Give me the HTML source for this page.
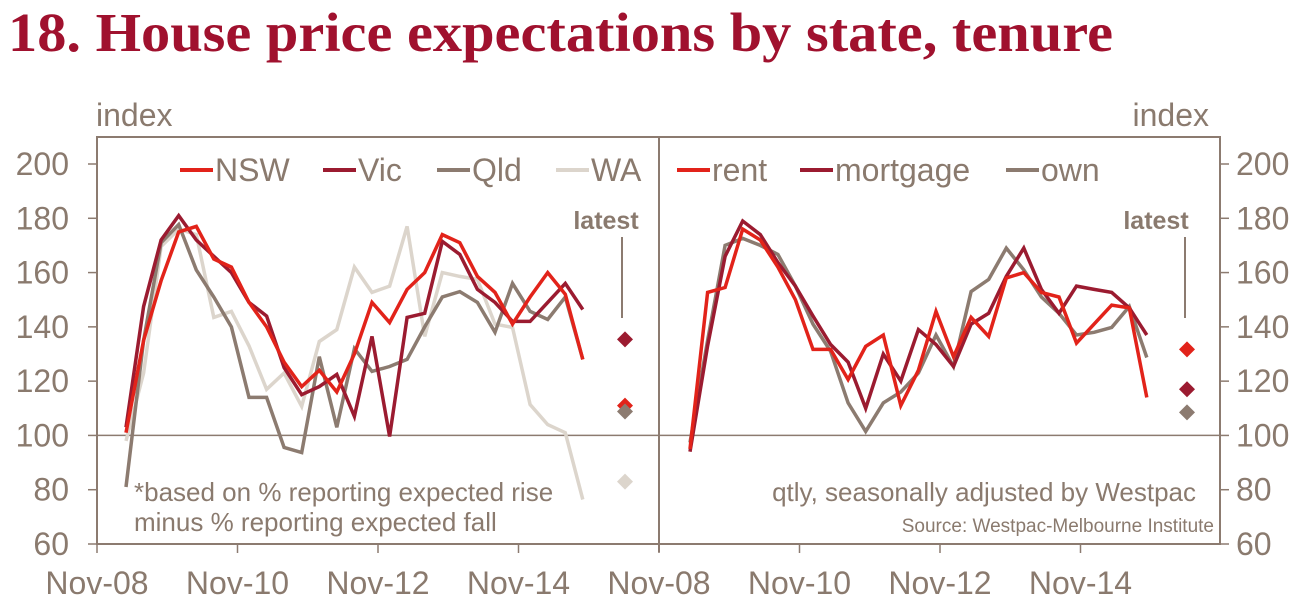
<!DOCTYPE html>
<html><head><meta charset="utf-8"><style>
body{margin:0;background:#fff;width:1304px;height:609px;overflow:hidden}
svg{display:block}
text{font-family:"Liberation Sans",sans-serif;fill:#8a7a6e}
</style></head><body>
<svg id="c" width="1304" height="609">
<text x="8" y="51" style="font-family:'Liberation Serif',serif;font-weight:bold;font-size:55px;fill:#a0112e" textLength="1105" lengthAdjust="spacingAndGlyphs">18. House price expectations by state, tenure</text>
</svg>
<script>
const yTicks=[60,80,100,120,140,160,180,200];
const xTickLabels=["Nov-08","Nov-10","Nov-12","Nov-14"];
const nsw=[101,135,157,175,177,165,162,149,140,127,118,124,116,130,149,141.6,153.8,160,174,171,158.6,152.7,141,151,160,152,128];
const vic=[103,147.5,172,181,172,166,160,149,144,125,115,118,122.5,107,136.5,99.6,143.5,145,171.5,166.7,153.8,149,142,142,149,156,146.4];
const qld=[81,135,171,177.7,161,151,140,114,114,95.6,93.7,129,103,132,123.6,125.4,128,140,151,153,149,138,156,145.7,142.7,151,128];
const wa=[98,123,169.6,176,174,143.5,145.7,133,117,123,110.7,134.6,139,162,152.7,155,177,136.5,160,158.6,157.5,141,139.8,111.4,104,101,76.4];
const rent=[95,152.7,154.5,176,172,162,150,131.7,131.7,120.6,132.8,137,111,124,145.7,129,143.5,136.5,158,160,152.7,151,134,141,148,147,114];
const mortgage=[94,133,166,179,174,163.7,155,144,133.5,127,110,130,120,139,133.5,125.4,141,145,158.6,169,153.8,145,155,153.8,152.7,147,137];
const own=[97.4,135,170,172.6,170,166.7,155,141,131,112,101.5,112,116,123,137,125.4,153,157.5,169,161,151,145,137,138,139.8,147.5,128.7];
const latestLeft=[["Vic",135.4],["NSW",111],["Qld",108.8],["WA",83]];
const latestRight=[["rent",131.7],["mortgage",117],["own",108.5]];

const NS="http://www.w3.org/2000/svg";
const svg=document.getElementById('c');
const AX="#8c7b70";
function y(v){return 544-(v-60)*(380/140);}
function el(t,a,txt){const e=document.createElementNS(NS,t);for(const k in a)e.setAttribute(k,a[k]);if(txt!==undefined)e.textContent=txt;svg.appendChild(e);return e;}
const colors={NSW:"#e2231a",Vic:"#9b1b30",Qld:"#8c7b70",WA:"#dcd5cc",rent:"#e2231a",mortgage:"#9b1b30",own:"#8c7b70"};
let f=el('rect',{x:97,y:137,width:1123,height:407,fill:'none',stroke:AX,'stroke-width':2});

let d=el('line',{x1:659,y1:137,x2:659,y2:552,stroke:AX,'stroke-width':2});

let z=el('line',{x1:97,y1:y(100),x2:1220,y2:y(100),stroke:AX,'stroke-width':1.5});

yTicks.forEach(v=>{
 let t=el('line',{x1:88,y1:y(v),x2:97,y2:y(v),stroke:AX,'stroke-width':1.5});
 let t2=el('line',{x1:1220,y1:y(v),x2:1229,y2:y(v),stroke:AX,'stroke-width':1.5});
 let l=el('text',{x:69,y:y(v)+11,'text-anchor':'end','font-size':32},String(v));
 let r=el('text',{x:1236,y:y(v)+11,'font-size':32},String(v));
});
[[97,126],[659,690]].forEach(([ox,fx],p)=>{
 xTickLabels.forEach((s,i)=>{
  const x=ox+i*140.5;
  let t=el('line',{x1:x,y1:544,x2:x,y2:553,stroke:AX,'stroke-width':1.5});
  let l=el('text',{x:x,y:594,'text-anchor':'middle','font-size':32},s);
 });
});
let il=el('text',{x:96,y:126,'font-size':32},'index');
let ir=el('text',{x:1209,y:126,'text-anchor':'end','font-size':32},'index');
function series(arr,x0,name){
 const pts=arr.map((v,i)=>(x0+i*17.57).toFixed(1)+','+y(v).toFixed(1)).join(' ');
 let p=el('polyline',{points:pts,fill:'none',stroke:colors[name],'stroke-width':3.5,'stroke-linejoin':'miter'});
 
 
}
series(wa,126,'WA');series(qld,126,'Qld');series(vic,126,'Vic');series(nsw,126,'NSW');
series(own,690,'own');series(mortgage,690,'mortgage');series(rent,690,'rent');
function diamonds(list,x){list.forEach(([n,v])=>{
 const cy=y(v);
 let p=el('polygon',{points:`${x},${cy-8} ${x+8},${cy} ${x},${cy+8} ${x-8},${cy}`,fill:colors[n]});
 
 
});}
diamonds(latestLeft,625);diamonds(latestRight,1187);
[[606,622],[1156,1185]].forEach(([cx,lx])=>{
 let t=el('text',{x:cx,y:229,'text-anchor':'middle','font-size':25,'font-weight':'bold'},'latest');
 let l=el('line',{x1:lx,y1:237,x2:lx,y2:318,stroke:AX,'stroke-width':2});
});
const legL=[["NSW",180],["Vic",323],["Qld",437],["WA",556]];
const legR=[["rent",677],["mortgage",800],["own",1006]];
legL.concat(legR).forEach(([n,x])=>{
 let l=el('line',{x1:x,y1:170,x2:x+33,y2:170,stroke:colors[n],'stroke-width':4});
 let t=el('text',{x:x+35,y:181,'font-size':32},n);
});
let n1=el('text',{x:134,y:501,'font-size':26},'*based on % reporting expected rise');
let n2=el('text',{x:134,y:531,'font-size':26},'minus % reporting expected fall');
let q=el('text',{x:1196,y:501,'text-anchor':'end','font-size':26},'qtly, seasonally adjusted by Westpac');
let s=el('text',{x:1214,y:532,'text-anchor':'end','font-size':19},'Source: Westpac-Melbourne Institute');
</script>
</body></html>
